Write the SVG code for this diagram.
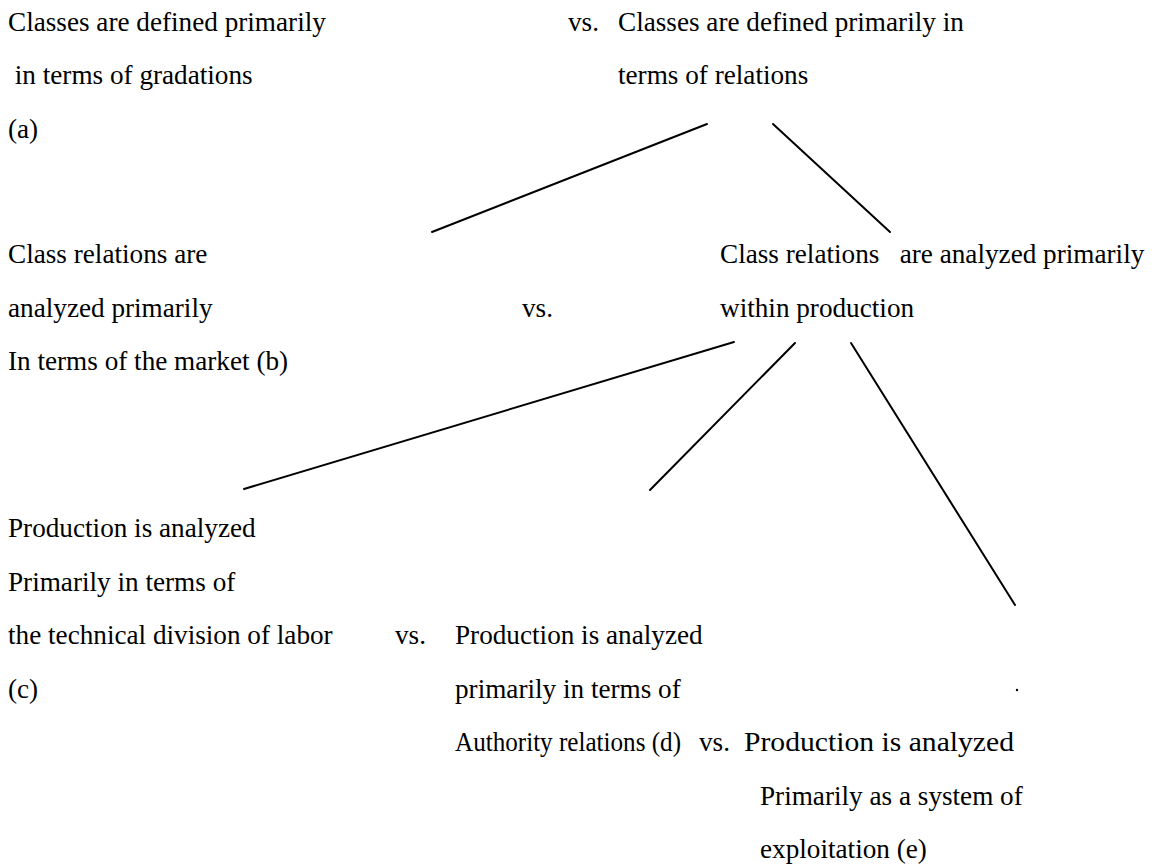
<svg xmlns="http://www.w3.org/2000/svg" width="1160" height="866" viewBox="0 0 1160 866">
<style>
text{font-family:"Liberation Serif","Times New Roman",serif;font-size:27.2px;fill:#000;white-space:pre}
.c{stroke:#000;stroke-width:2;fill:none;stroke-linecap:round}
</style>
<rect width="1160" height="866" fill="#fff"/>
<g id="connectors">
<line class="c" x1="707" y1="124" x2="432" y2="232"/>
<line class="c" x1="773" y1="124" x2="890" y2="232"/>
<line class="c" x1="734" y1="342" x2="244" y2="489"/>
<line class="c" x1="795" y1="343" x2="650" y2="490"/>
<line class="c" x1="851" y1="343" x2="1015" y2="605"/>
</g>
<g id="node-a">
<text x="8" y="31">Classes are defined primarily</text>
<text x="8" y="84"> in terms of gradations</text>
<text x="8" y="138">(a)</text>
</g>
<text id="vs1" x="568" y="31">vs.</text>
<g id="node-relations">
<text x="618" y="31">Classes are defined primarily in</text>
<text x="618" y="84">terms of relations</text>
</g>
<g id="node-b">
<text x="8" y="263">Class relations are</text>
<text x="8" y="317">analyzed primarily</text>
<text x="8" y="370">In terms of the market (b)</text>
</g>
<text id="vs2" x="522" y="317">vs.</text>
<g id="node-production">
<text x="720" y="263">Class relations   are analyzed primarily</text>
<text x="720" y="317">within production</text>
</g>
<g id="node-c">
<text x="8" y="537">Production is analyzed</text>
<text x="8" y="591">Primarily in terms of</text>
<text x="8" y="644">the technical division of labor</text>
<text x="8" y="698">(c)</text>
</g>
<text id="vs3" x="395" y="644">vs.</text>
<g id="node-d">
<text x="455" y="644">Production is analyzed</text>
<text x="455" y="698">primarily in terms of</text>
<text x="455" y="751" textLength="226" lengthAdjust="spacingAndGlyphs">Authority relations (d)</text>
</g>
<text id="vs4" x="699" y="751">vs.</text>
<g id="node-e">
<text x="744" y="751" textLength="270" lengthAdjust="spacingAndGlyphs">Production is analyzed</text>
<text x="760" y="805">Primarily as a system of</text>
<text x="760" y="858">exploitation (e)</text>
</g>
<circle cx="1017" cy="690" r="1.2" fill="#000"/>
</svg>
